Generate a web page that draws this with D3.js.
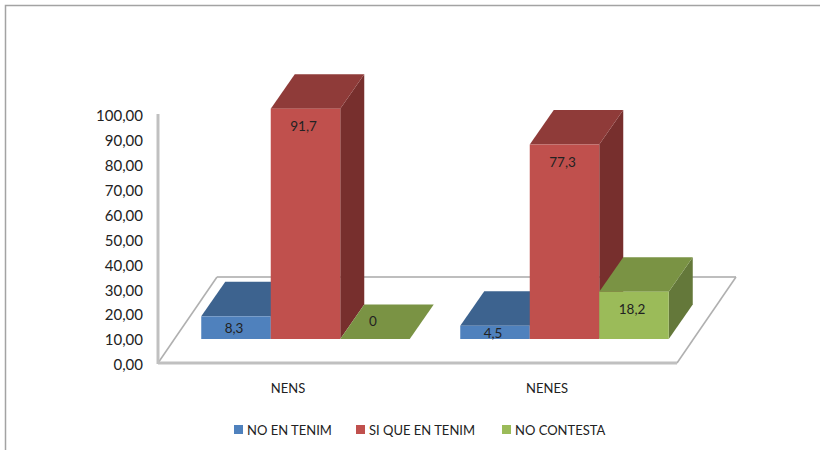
<!DOCTYPE html>
<html><head><meta charset="utf-8">
<script src="https://cdn.jsdelivr.net/npm/d3@7"></script>
<style>html,body{margin:0;padding:0;background:#fff}svg{display:block}text{font-family:Lato,"Open Sans",sans-serif;fill:#222}</style>
</head><body><svg id="c" width="820" height="450"></svg>
<script>
const categories = ["NENS", "NENES"];
const seriesNames = ["NO EN TENIM", "SI QUE EN TENIM", "NO CONTESTA"];
const noEnTenim = [8.3, 4.5];
const siQueEnTenim = [91.7, 77.3];
const noContesta = [0, 18.2];
const valueLabels = [["8,3", "4,5"], ["91,7", "77,3"], ["0", "18,2"]];
const yTicks = [0, 10, 20, 30, 40, 50, 60, 70, 80, 90, 100];
const faceFront = ["#4f81bd", "#c0504d", "#9bbb59"];
const faceTop = ["#3d638f", "#8f3b39", "#7a9344"];
const faceSide = ["#324f74", "#772f2d", "#64783a"];
const seriesValues = [noEnTenim, siQueEnTenim, noContesta];

const svg = d3.select("#c");
const floorL = 158, floorR = 677, floorFront = 363, axisTop = 114;
const floorDx = 59, floorDy = 86, barDx = 17.5, barDy = 26, depthX = 24, depthY = 34.5;
const barBase = 339;

const y = d3.scaleLinear().domain([0, 100]).range([floorFront, axisTop]);
const x0 = d3.scaleBand().domain(categories).range([floorL + 0.5, floorR - 0.5]);
const x1 = d3.scaleBand().domain(d3.range(3)).range([0, 208.5]);
const pts = a => a.map(p => p.join(",")).join(" ");

// chart frame
svg.append("path").attr("d", "M5.5,450V5.5H820").attr("fill", "none").attr("stroke", "#a3a3a3").attr("stroke-width", 1.5);

// floor
svg.append("line").attr("x1", floorL + floorDx).attr("x2", floorR + floorDx)
  .attr("y1", floorFront - floorDy).attr("y2", floorFront - floorDy).attr("stroke", "#a8a8a8").attr("stroke-width", 1.5);
[floorL, floorR].forEach(fx => svg.append("line").attr("x1", fx).attr("y1", floorFront)
  .attr("x2", fx + floorDx).attr("y2", floorFront - floorDy).attr("stroke", "#b0b0b0").attr("stroke-width", 1.6));
svg.append("line").attr("x1", floorL).attr("x2", floorR).attr("y1", floorFront).attr("y2", floorFront)
  .attr("stroke", "#c0c0c0").attr("stroke-width", 3);
svg.append("line").attr("x1", floorL).attr("x2", floorL).attr("y1", axisTop).attr("y2", floorFront + 1)
  .attr("stroke", "#c0c0c0").attr("stroke-width", 3);

// value axis
svg.append("g").selectAll("text").data(yTicks).join("text")
  .attr("x", 143).attr("y", d => y(d) + 2).attr("dy", "0.35em").attr("text-anchor", "end")
  .attr("font-size", 15).text(d => d3.format(".2f")(d).replace(".", ","));

// category labels
svg.append("g").selectAll("text").data(categories).join("text")
  .attr("x", d => x0(d) + x0.bandwidth() / 2).attr("y", 388).attr("dy", "0.35em").attr("text-anchor", "middle")
  .attr("font-size", 13).text(d => d);

// bars
categories.forEach((cat, ci) => {
  const left = x0(cat) + (x0.bandwidth() - 208.5) / 2 + barDx;
  seriesValues.forEach((vals, si) => {
    const v = vals[ci];
    const xa = left + x1(si), xb = xa + x1.bandwidth();
    const top = v > 0 ? y(v) - barDy : barBase;
    const g = svg.append("g");
    g.append("polygon").attr("fill", faceSide[si])
      .attr("points", pts([[xb, top], [xb + depthX, top - depthY], [xb + depthX, barBase - depthY], [xb, barBase]]));
    g.append("polygon").attr("fill", faceTop[si])
      .attr("points", pts([[xa, top], [xa + depthX, top - depthY], [xb + depthX, top - depthY], [xb, top]]));
    g.append("rect").attr("x", xa).attr("y", top).attr("width", x1.bandwidth()).attr("height", barBase - top).attr("fill", faceFront[si]);
  });
});
// value labels, above every bar
categories.forEach((cat, ci) => {
  const left = x0(cat) + (x0.bandwidth() - 208.5) / 2 + barDx;
  seriesValues.forEach((vals, si) => {
    const v = vals[ci];
    const top = v > 0 ? y(v) - barDy : barBase;
    const h = barBase - top;
    const ly = v > 0 ? top + Math.min(17, h / 2) + 1 : top - 18;
    svg.append("text").attr("x", left + x1(si) + x1.bandwidth() / 2 - 2).attr("y", ly)
      .attr("dy", "0.35em").attr("text-anchor", "middle").attr("font-size", 13.5).attr("fill", "#111").text(valueLabels[si][ci]);
  });
});

// legend
const legendX = d3.scaleOrdinal().domain(seriesNames).range([234, 356, 502]);
const lg = svg.append("g").selectAll("g").data(seriesNames).join("g");
lg.append("rect").attr("x", d => legendX(d)).attr("y", 425).attr("width", 9).attr("height", 9)
  .attr("fill", (d, i) => faceFront[i]);
lg.append("text").attr("x", d => legendX(d) + 13).attr("y", 430).attr("dy", "0.35em").attr("font-size", 13).text(d => d);
</script></body></html>
